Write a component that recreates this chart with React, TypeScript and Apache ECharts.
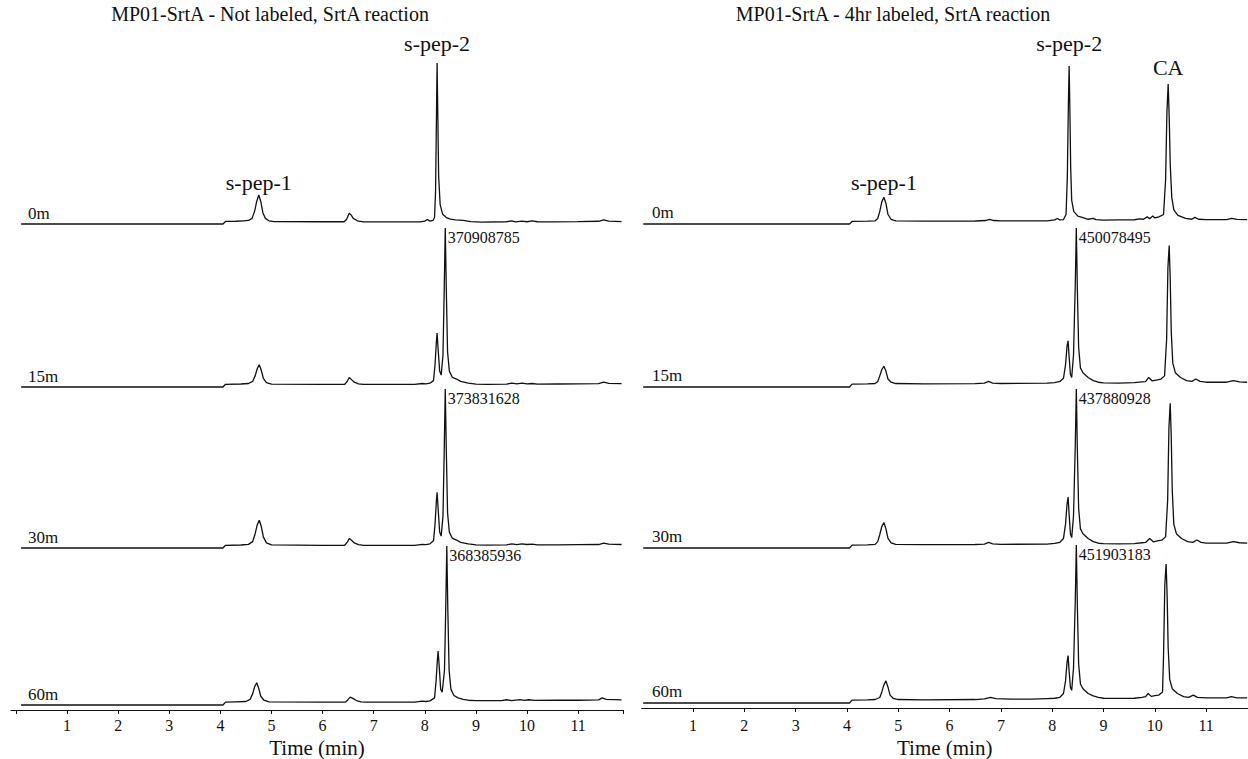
import React, { useEffect, useRef } from "react";
import * as echarts from "echarts";

const FONT = "Liberation Serif";
const INK = "#111";

const panelTitles = [
  "MP01-SrtA - Not labeled, SrtA reaction",
  "MP01-SrtA - 4hr labeled, SrtA reaction",
];
const timepoints = ["0m", "15m", "30m", "60m"];
const tickLabelValues = [1, 2, 3, 4, 5, 6, 7, 8, 9, 10, 11];

// Maximum intensity (counts) of each trace; null where the trace is not annotated
const leftMax: (number | null)[] = [null, 370908785, 373831628, 368385936];
const rightMax: (number | null)[] = [null, 450078495, 437880928, 451903183];

// Retention time (min) of each trace maximum
const leftApexTimes: (number | null)[] = [null, 8.4, 8.4, 8.43];
const rightApexTimes: (number | null)[] = [null, 8.47, 8.47, 8.47];

// Named peaks on the first trace of each panel
const leftPeakNames = ["s-pep-1", "s-pep-2"];
const leftPeakTimes = [4.75, 8.24];
const rightPeakNames = ["s-pep-1", "s-pep-2", "CA"];
const rightPeakTimes = [4.72, 8.33, 10.26];

// Chromatograms: [time (min), relative intensity (% of trace maximum)]
const left0m: [number, number][] = [
  [0.1, 0], [4.05, 0], [4.1, 1.6], [4.3, 1.7], [4.45, 2.0], [4.55, 2.2], [4.62, 3.5], [4.67, 8],
  [4.71, 14], [4.75, 18], [4.79, 14], [4.83, 7], [4.88, 3.5], [4.95, 2], [5.05, 1.5], [6.0, 1.4],
  [6.42, 1.4], [6.47, 3], [6.52, 6.7], [6.56, 5.5], [6.6, 3.5], [6.68, 2], [6.8, 1.3], [7.9, 1.3],
  [8.0, 1.8], [8.05, 2.8], [8.1, 1.8], [8.16, 2.2], [8.19, 4], [8.21, 20], [8.225, 60], [8.24, 100],
  [8.255, 65], [8.27, 30], [8.3, 12], [8.35, 6], [8.42, 4], [8.5, 3], [8.6, 2.6], [8.75, 2.2],
  [8.9, 1.5], [9.1, 1.2], [9.6, 1.4], [9.7, 2], [9.78, 1.3], [9.9, 1.8], [10.0, 1.4], [10.1, 1.9],
  [10.2, 1.4], [10.5, 1.3], [11.0, 1.5], [11.4, 1.7], [11.5, 2.6], [11.6, 1.8], [11.85, 1.5],
];
const left15m: [number, number][] = [
  [0.1, 0], [4.05, 0], [4.1, 1.7], [4.4, 1.9], [4.55, 2.2], [4.63, 3.5], [4.68, 7], [4.72, 11.5],
  [4.76, 14], [4.8, 10.5], [4.84, 5.5], [4.9, 2.8], [5.0, 1.8], [6.0, 1.6], [6.43, 1.6], [6.48, 3.5],
  [6.52, 6], [6.56, 4.8], [6.62, 3], [6.7, 2], [6.8, 1.6], [7.8, 1.6], [7.95, 2.2], [8.02, 2.0],
  [8.1, 2.4], [8.17, 4], [8.2, 14], [8.225, 28], [8.24, 34], [8.26, 24], [8.29, 10], [8.32, 7.5],
  [8.355, 20], [8.38, 62], [8.4, 100], [8.42, 62], [8.445, 22], [8.48, 10], [8.54, 6], [8.62, 5],
  [8.7, 3.5], [8.85, 2.5], [9.0, 1.8], [9.2, 1.6], [9.6, 1.8], [9.7, 2.4], [9.8, 1.9], [9.9, 2.4],
  [10.0, 2], [10.1, 2.2], [10.2, 1.8], [10.6, 1.9], [11.0, 2], [11.4, 2.1], [11.5, 3], [11.6, 2.3],
  [11.85, 2.1],
];
const left30m: [number, number][] = [
  [0.1, 0], [4.05, 0], [4.1, 1.7], [4.4, 1.9], [4.55, 2.3], [4.63, 4], [4.68, 9], [4.72, 14.5],
  [4.76, 17.5], [4.8, 13.5], [4.84, 7], [4.9, 3.2], [5.0, 2], [6.0, 1.7], [6.43, 1.7], [6.48, 3.5],
  [6.52, 6], [6.56, 5], [6.62, 3.2], [6.7, 2.1], [6.8, 1.7], [7.8, 1.7], [7.95, 2.3], [8.02, 2.1],
  [8.1, 2.6], [8.17, 4.5], [8.2, 15], [8.225, 29], [8.24, 35], [8.26, 25], [8.29, 10], [8.32, 7.5],
  [8.355, 20], [8.38, 62], [8.4, 100], [8.42, 62], [8.445, 22], [8.48, 10], [8.54, 6], [8.62, 5],
  [8.7, 3.5], [8.85, 2.6], [9.0, 2], [9.2, 1.8], [9.6, 2], [9.7, 2.6], [9.8, 2.1], [9.9, 2.6],
  [10.0, 2.2], [10.1, 2.4], [10.2, 2], [10.6, 2], [11.0, 2.1], [11.4, 2.2], [11.5, 3.1], [11.6, 2.4],
  [11.85, 2.2],
];
const left60m: [number, number][] = [
  [0.1, 0], [4.05, 0], [4.1, 1.8], [4.3, 2], [4.5, 2.2], [4.58, 3.5], [4.63, 7], [4.67, 11.5],
  [4.71, 14], [4.75, 10.5], [4.79, 5.5], [4.85, 3], [4.95, 2], [6.0, 1.8], [6.45, 1.8], [6.5, 3.5],
  [6.54, 5], [6.6, 4], [6.66, 2.8], [6.75, 2], [6.85, 1.8], [7.8, 1.8], [7.95, 2.4], [8.02, 2.2],
  [8.1, 2.6], [8.19, 4.5], [8.22, 15], [8.245, 28], [8.26, 34], [8.28, 25], [8.31, 10], [8.34, 8],
  [8.385, 22], [8.41, 62], [8.43, 100], [8.45, 60], [8.475, 22], [8.51, 10], [8.57, 6], [8.65, 4.5],
  [8.75, 3.5], [8.85, 3], [9.0, 2.8], [9.5, 2.8], [9.6, 3.3], [9.7, 2.8], [9.86, 3.4], [9.95, 2.9],
  [10.03, 3.3], [10.15, 2.9], [10.6, 3], [11.0, 3], [11.4, 3.2], [11.47, 4.5], [11.55, 3.5],
  [11.85, 3.2],
];

const right0m: [number, number][] = [
  [0.03, 0], [4.05, 0], [4.1, 1.6], [4.4, 1.8], [4.55, 2], [4.6, 3.5], [4.64, 8], [4.68, 14],
  [4.72, 17], [4.76, 13], [4.8, 6], [4.86, 3], [4.95, 2], [5.5, 1.8], [6.5, 1.9], [6.7, 2.2],
  [6.78, 3], [6.86, 2.2], [7.0, 2], [7.9, 2], [8.05, 2.6], [8.1, 3.5], [8.15, 2.6], [8.22, 2.8],
  [8.27, 6], [8.295, 30], [8.315, 75], [8.33, 100], [8.345, 72], [8.36, 36], [8.38, 15], [8.42, 8],
  [8.5, 5], [8.6, 4], [8.7, 3], [8.8, 3.6], [8.85, 2.8], [9.0, 2.5], [9.3, 2.6], [9.6, 2.7],
  [9.7, 3.2], [9.78, 3], [9.85, 4.5], [9.9, 3.4], [9.96, 5], [10.0, 3.8], [10.08, 4.5], [10.17, 6],
  [10.21, 28], [10.235, 70], [10.26, 88.6], [10.28, 68], [10.3, 38], [10.33, 17], [10.37, 9],
  [10.45, 5.5], [10.6, 3.5], [10.72, 3], [10.78, 4.2], [10.85, 3], [11.0, 2.8], [11.4, 2.8],
  [11.5, 3.6], [11.6, 2.9], [11.8, 2.8],
];
const right15m: [number, number][] = [
  [0.03, 0], [4.05, 0], [4.1, 1.8], [4.4, 2], [4.55, 2.2], [4.6, 3.5], [4.64, 7], [4.68, 11],
  [4.72, 13], [4.76, 10], [4.8, 5], [4.86, 3], [4.95, 2.2], [5.5, 2], [6.5, 2.1], [6.68, 2.4],
  [6.76, 3.5], [6.84, 2.5], [7.0, 2.2], [7.9, 2.4], [8.05, 2.8], [8.15, 3.5], [8.22, 5.5],
  [8.26, 14], [8.29, 26], [8.31, 29], [8.33, 19], [8.355, 8], [8.38, 6], [8.415, 20], [8.45, 65],
  [8.47, 100], [8.49, 62], [8.515, 25], [8.55, 12], [8.6, 9], [8.7, 6], [8.8, 4], [8.9, 3], [9.0, 2.6],
  [9.3, 2.5], [9.6, 2.7], [9.75, 3.2], [9.82, 3.4], [9.88, 6], [9.95, 3.8], [10.05, 4.5], [10.12, 5],
  [10.19, 7], [10.23, 30], [10.255, 75], [10.28, 89], [10.3, 68], [10.32, 35], [10.35, 15],
  [10.4, 9], [10.5, 6], [10.62, 4], [10.72, 3.5], [10.8, 5], [10.88, 3.5], [11.0, 3], [11.4, 3],
  [11.53, 4], [11.65, 3.2], [11.8, 3],
];
const right30m: [number, number][] = [
  [0.03, 0], [4.05, 0], [4.1, 1.8], [4.4, 2], [4.55, 2.3], [4.6, 4], [4.64, 8.5], [4.68, 13.5],
  [4.72, 16], [4.76, 12], [4.8, 6], [4.86, 3.2], [4.95, 2.3], [5.5, 2.1], [6.5, 2.2], [6.68, 2.5],
  [6.76, 3.5], [6.84, 2.6], [7.0, 2.3], [7.9, 2.5], [8.05, 2.9], [8.15, 3.6], [8.22, 6],
  [8.26, 15], [8.29, 28], [8.31, 32], [8.33, 21], [8.355, 9], [8.38, 6.5], [8.415, 20], [8.45, 65],
  [8.47, 100], [8.49, 62], [8.515, 25], [8.55, 12], [8.6, 9], [8.7, 6], [8.8, 4], [8.9, 3], [9.0, 2.7],
  [9.3, 2.6], [9.6, 2.8], [9.75, 3.3], [9.82, 3.5], [9.9, 6], [9.97, 3.9], [10.07, 4.6], [10.14, 5],
  [10.21, 7], [10.25, 30], [10.275, 76], [10.3, 91], [10.32, 70], [10.34, 36], [10.37, 15],
  [10.42, 9], [10.52, 6], [10.64, 4], [10.74, 3.5], [10.82, 5], [10.9, 3.5], [11.0, 3.1], [11.4, 3.1],
  [11.53, 4], [11.65, 3.3], [11.8, 3.1],
];
const right60m: [number, number][] = [
  [0.03, 0], [4.05, 0], [4.1, 1.8], [4.4, 2], [4.55, 2.2], [4.64, 3.5], [4.68, 7], [4.72, 11.5],
  [4.76, 14], [4.8, 10], [4.84, 5], [4.9, 3], [5.0, 2.2], [5.5, 2], [6.5, 2.2], [6.68, 2.6],
  [6.8, 3.5], [6.9, 2.8], [7.2, 2.5], [7.6, 2.4], [7.9, 2.8], [8.05, 3], [8.15, 3.6], [8.22, 6],
  [8.26, 14], [8.29, 26], [8.31, 30], [8.33, 20], [8.355, 10], [8.38, 8], [8.415, 22], [8.45, 65],
  [8.47, 100], [8.49, 62], [8.515, 25], [8.55, 12], [8.6, 9], [8.7, 6], [8.8, 4.5], [8.9, 3.5],
  [9.0, 3], [9.3, 2.9], [9.6, 3], [9.75, 3.6], [9.82, 4], [9.87, 6], [9.93, 4.2], [10.0, 4.6],
  [10.08, 5], [10.15, 7], [10.17, 30], [10.195, 75], [10.22, 88], [10.24, 68], [10.26, 35],
  [10.29, 15], [10.34, 9], [10.44, 6], [10.56, 4], [10.66, 3.6], [10.75, 5], [10.83, 3.6],
  [11.0, 3.2], [11.4, 3.2], [11.49, 4], [11.6, 3.3], [11.8, 3.2],
];

const leftTraces = [left0m, left15m, left30m, left60m];
const rightTraces = [right0m, right15m, right30m, right60m];

// Panel geometry (pixels)
const panels = [
  {
    left: 10.9, width: 612.2, min: -0.1, max: 11.88, axisY: 710,
    tickValues: [0, 1, 2, 3, 4, 5, 6, 7, 8, 9, 10, 11, 11.88],
    bands: [[63, 224], [228, 387], [389, 548], [546, 705]],
    labelX: 28, labelRise: 11, titleX: 270, labelMargin: 7, nameGap: 27,
    peakGaps: [1, 8],
  },
  {
    left: 641.7, width: 606, min: 0, max: 11.81, axisY: 708,
    tickValues: [1, 2, 3, 4, 5, 6, 7, 8, 9, 10, 11],
    bands: [[66, 224], [228, 387], [389, 548], [545, 703]],
    labelX: 652, labelRise: 12, titleX: 893, labelMargin: 9, nameGap: 29,
    peakGaps: [3, 11, 5],
  },
];

const panelData = [
  { traces: leftTraces, maxes: leftMax, apexTimes: leftApexTimes, peakNames: leftPeakNames, peakTimes: leftPeakTimes },
  { traces: rightTraces, maxes: rightMax, apexTimes: rightApexTimes, peakNames: rightPeakNames, peakTimes: rightPeakTimes },
];

function scaled(trace: [number, number][], max: number | null): [number, number][] {
  const top = max ?? 100;
  return trace.map(([t, r]) => [t, (r / 100) * top]);
}

function valueAt(data: [number, number][], t: number): number {
  const hit = data.find((p) => p[0] === t);
  return hit ? hit[1] : 0;
}

function buildOption() {
  const grid: any[] = [];
  const xAxis: any[] = [];
  const yAxis: any[] = [];
  const series: any[] = [];
  const graphic: any[] = [];

  panels.forEach((p, pi) => {
    const pd = panelData[pi];

    graphic.push({
      type: "text",
      x: p.titleX,
      y: 14,
      silent: true,
      style: {
        text: panelTitles[pi],
        fill: INK,
        fontFamily: FONT,
        fontSize: 20,
        textAlign: "center",
        textVerticalAlign: "middle",
      },
    });

    p.bands.forEach(([top, base], ti) => {
      const gi = grid.length;
      grid.push({ left: p.left, width: p.width, top, height: base - top });
      const max = pd.maxes[ti];
      xAxis.push({ gridIndex: gi, type: "value", min: p.min, max: p.max, show: false });
      yAxis.push({ gridIndex: gi, type: "value", min: 0, max: max ?? 100, show: false });

      const data = scaled(pd.traces[ti], max);
      const marks: any[] = [];

      if (ti === 0) {
        pd.peakNames.forEach((name, k) => {
          const t = pd.peakTimes[k];
          marks.push({
            coord: [t, valueAt(data, t)],
            label: {
              show: true,
              formatter: name,
              position: "top",
              distance: p.peakGaps[k],
              color: INK,
              fontFamily: FONT,
              fontSize: 22,
            },
          });
        });
      }
      const apexT = pd.apexTimes[ti];
      if (max !== null && apexT !== null) {
        marks.push({
          coord: [apexT, valueAt(data, apexT)],
          label: {
            show: true,
            formatter: String(max),
            position: "right",
            distance: 2,
            offset: [0, 9],
            color: INK,
            fontFamily: FONT,
            fontSize: 16,
          },
        });
      }

      series.push({
        type: "line",
        xAxisIndex: gi,
        yAxisIndex: gi,
        data,
        showSymbol: false,
        symbol: "none",
        clip: false,
        silent: true,
        lineStyle: { color: INK, width: 1.3 },
        markPoint: {
          silent: true,
          symbol: "circle",
          symbolSize: 1,
          itemStyle: { color: "rgba(0,0,0,0)" },
          data: marks,
        },
      });

      graphic.push({
        type: "text",
        x: p.labelX,
        y: base - p.labelRise,
        silent: true,
        style: {
          text: timepoints[ti],
          fill: INK,
          fontFamily: FONT,
          fontSize: 17,
          textAlign: "left",
          textVerticalAlign: "middle",
        },
      });
    });

    // time axis
    const ai = grid.length;
    grid.push({ left: p.left, width: p.width, top: p.axisY - 10, height: 10 });
    xAxis.push({
      gridIndex: ai,
      type: "value",
      min: p.min,
      max: p.max,
      position: "bottom",
      axisLine: { show: true, onZero: false, lineStyle: { color: INK, width: 1 } },
      axisTick: { show: true, length: 4, customValues: p.tickValues, lineStyle: { color: INK, width: 1 } },
      axisLabel: {
        show: true,
        customValues: tickLabelValues,
        color: INK,
        fontFamily: FONT,
        fontSize: 16,
        margin: p.labelMargin,
      },
      splitLine: { show: false },
      name: "Time (min)",
      nameLocation: "middle",
      nameGap: p.nameGap,
      nameTextStyle: { color: INK, fontFamily: FONT, fontSize: 21 },
    });
    yAxis.push({ gridIndex: ai, type: "value", min: 0, max: 1, show: false });
  });

  return {
    animation: false,
    backgroundColor: "#fff",
    grid,
    xAxis,
    yAxis,
    series,
    graphic,
  };
}

export default function App() {
  const ref = useRef<HTMLDivElement>(null);

  useEffect(() => {
    if (!ref.current) return;
    const chart = echarts.init(ref.current, undefined, { renderer: "svg" });
    chart.setOption(buildOption());
    return () => chart.dispose();
  }, []);

  return (
    <div
      ref={ref}
      style={{ position: "absolute", left: 0, top: 0, width: 1248, height: 759, background: "#fff" }}
    />
  );
}
